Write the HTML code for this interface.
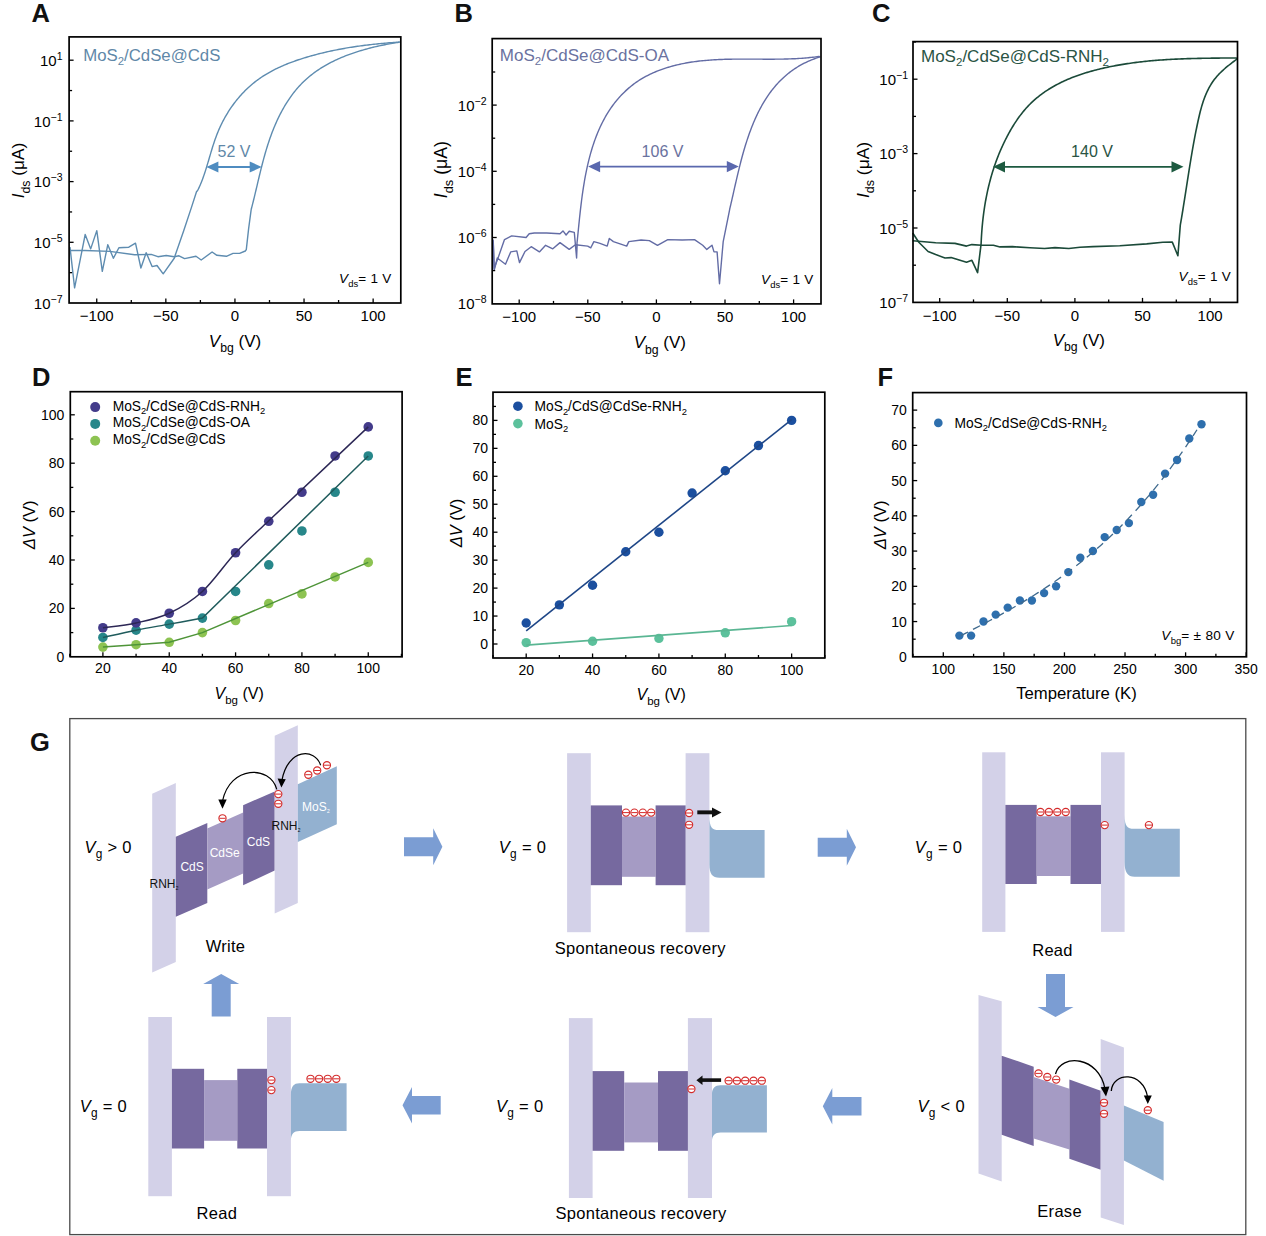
<!DOCTYPE html><html><head><meta charset="utf-8"><style>html,body{margin:0;padding:0;background:#fff;}svg{display:block;}</style></head><body>
<svg width="1266" height="1236" viewBox="0 0 1266 1236" font-family='"Liberation Sans", sans-serif'>
<rect width="1266" height="1236" fill="#fff"/>
<text x="31.5" y="22" font-size="25.5" text-anchor="start" fill="#111" font-weight="bold" >A</text>
<text x="454.5" y="22" font-size="25.5" text-anchor="start" fill="#111" font-weight="bold" >B</text>
<text x="872" y="22" font-size="25.5" text-anchor="start" fill="#111" font-weight="bold" >C</text>
<text x="32" y="386" font-size="25.5" text-anchor="start" fill="#111" font-weight="bold" >D</text>
<text x="455.5" y="386" font-size="25.5" text-anchor="start" fill="#111" font-weight="bold" >E</text>
<text x="877.5" y="386" font-size="25.5" text-anchor="start" fill="#111" font-weight="bold" >F</text>
<text x="30" y="750.5" font-size="25.5" text-anchor="start" fill="#111" font-weight="bold" >G</text>
<path d="M399.7,42 L398.19,42.14 L396.66,42.24 L395.14,42.35 L393.62,42.47 L392.1,42.58 L390.58,42.7 L389.06,42.82 L387.55,42.95 L386.03,43.08 L384.52,43.21 L383.01,43.35 L381.5,43.49 L379.99,43.63 L378.48,43.78 L376.98,43.93 L375.48,44.09 L373.97,44.25 L372.47,44.41 L370.97,44.58 L369.47,44.75 L367.97,44.93 L366.48,45.11 L364.98,45.3 L363.49,45.49 L361.99,45.69 L360.5,45.89 L359.01,46.09 L357.52,46.3 L356.03,46.52 L354.54,46.74 L353.06,46.97 L351.57,47.2 L350.08,47.43 L348.6,47.68 L347.12,47.92 L345.63,48.18 L344.15,48.44 L342.67,48.7 L341.19,48.97 L339.71,49.25 L338.23,49.53 L336.75,49.82 L335.27,50.12 L333.79,50.42 L332.31,50.73 L330.84,51.04 L329.36,51.36 L327.89,51.69 L326.41,52.03 L324.94,52.37 L323.46,52.72 L321.99,53.07 L320.51,53.43 L319.04,53.8 L317.57,54.18 L316.09,54.56 L314.62,54.95 L313.15,55.35 L311.67,55.76 L310.2,56.17 L308.73,56.59 L307.26,57.02 L305.79,57.46 L304.32,57.9 L302.85,58.36 L301.39,58.82 L299.93,59.3 L298.47,59.78 L297.02,60.27 L295.57,60.77 L294.12,61.29 L292.67,61.81 L291.24,62.34 L289.8,62.89 L288.37,63.44 L286.95,64.01 L285.53,64.59 L284.12,65.18 L282.72,65.79 L281.32,66.4 L279.93,67.03 L278.55,67.67 L277.17,68.33 L275.81,68.99 L274.45,69.67 L273.1,70.37 L271.76,71.08 L270.43,71.8 L269.11,72.54 L267.8,73.29 L266.5,74.06 L265.21,74.84 L263.93,75.64 L262.66,76.45 L261.41,77.28 L260.17,78.13 L258.94,78.99 L257.72,79.87 L256.52,80.77 L255.33,81.68 L254.15,82.61 L252.99,83.55 L251.84,84.51 L250.7,85.49 L249.57,86.48 L248.46,87.49 L247.37,88.51 L246.28,89.54 L245.21,90.6 L244.16,91.66 L243.12,92.74 L242.09,93.83 L241.07,94.94 L240.07,96.06 L239.09,97.19 L238.11,98.34 L237.16,99.5 L236.21,100.67 L235.28,101.86 L234.37,103.05 L233.47,104.26 L232.58,105.48 L231.71,106.71 L230.85,107.95 L230,109.2 L229.17,110.47 L228.36,111.74 L227.56,113.03 L226.78,114.32 L226.01,115.63 L225.25,116.94 L224.51,118.26 L223.78,119.59 L223.07,120.93 L222.38,122.28 L221.7,123.64 L221.03,125.01 L220.38,126.38 L219.75,127.77 L219.13,129.16 L218.53,130.55 L217.94,131.96 L217.37,133.37 L216.81,134.79 L216.27,136.21 L215.74,137.64 L215.22,139.07 L214.72,140.51 L214.23,141.96 L213.75,143.41 L213.27,144.86 L212.81,146.31 L212.35,147.77 L211.91,149.23 L211.46,150.69 L211.02,152.16 L210.59,153.62 L210.15,155.09 L209.72,156.55 L209.29,158.02 L208.87,159.48 L208.44,160.94 L208,162.4 L207.57,163.86 L207.13,165.32 L206.69,166.77 L206.24,168.22 L205.79,169.66 L205.33,171.1 L204.86,172.54 L204.38,173.97 L203.9,175.4 L203.4,176.81 L202.89,178.23 L202.36,179.63 L201.83,181.03 L201.28,182.42 L200.71,183.8 L200.13,185.17 L199.53,186.53 L198.91,187.89 L198.27,189.23 L197.61,190.56 L196.5,191.8 L191.3,207.9 L183.7,230.7 L175.2,255.3 L174.4,258 L163.2,273.8 L157,265.5 L152.1,266.6 L146.2,252.7 L140.9,268 L135.5,243.1 L128.8,247.2 L118.9,247.7 L113.4,258.3 L107.8,244.7 L102.3,271.3 L96.8,230.6 L90.7,248.9 L85.2,234.5 L74.6,287.9 L70,247.2" fill="none" stroke="#5e8cb0" stroke-width="1.4" stroke-linejoin="round"/>
<path d="M70,250.5 L84.9,250.5 L109.8,251.4 L134.6,254.7 L151.2,254.4 L157.9,256.7 L166.2,255.5 L174.2,256.7 L179,255.8 L184.6,258.6 L196,256.3 L201.2,260 L212.1,252 L216.9,255.3 L226.4,256.3 L233,253.4 L239.6,253.4 L245.3,251 L246.3,249.6 L248.6,228.8 L251,210.8 L251.25,209.25 L251.63,207.8 L252.01,206.34 L252.38,204.88 L252.75,203.42 L253.12,201.96 L253.48,200.5 L253.84,199.04 L254.2,197.57 L254.55,196.11 L254.9,194.64 L255.26,193.17 L255.61,191.71 L255.95,190.24 L256.3,188.77 L256.65,187.3 L257,185.83 L257.34,184.36 L257.69,182.89 L258.04,181.41 L258.39,179.94 L258.74,178.47 L259.09,177 L259.44,175.53 L259.8,174.06 L260.15,172.59 L260.51,171.11 L260.88,169.64 L261.24,168.17 L261.61,166.71 L261.99,165.24 L262.36,163.77 L262.75,162.3 L263.13,160.84 L263.53,159.37 L263.92,157.91 L264.33,156.45 L264.74,154.98 L265.15,153.53 L265.58,152.07 L266,150.61 L266.44,149.15 L266.88,147.7 L267.34,146.25 L267.79,144.8 L268.26,143.35 L268.74,141.91 L269.22,140.46 L269.72,139.02 L270.22,137.58 L270.73,136.15 L271.26,134.71 L271.79,133.28 L272.34,131.85 L272.89,130.43 L273.46,129 L274.04,127.58 L274.63,126.17 L275.23,124.76 L275.84,123.36 L276.46,121.96 L277.09,120.56 L277.74,119.17 L278.4,117.79 L279.07,116.41 L279.75,115.05 L280.45,113.68 L281.15,112.33 L281.87,110.99 L282.61,109.65 L283.35,108.32 L284.11,107 L284.88,105.69 L285.66,104.39 L286.46,103.1 L287.27,101.82 L288.1,100.55 L288.94,99.29 L289.79,98.05 L290.66,96.81 L291.54,95.59 L292.43,94.38 L293.34,93.18 L294.27,92 L295.2,90.83 L296.16,89.67 L297.13,88.53 L298.11,87.4 L299.11,86.29 L300.12,85.2 L301.15,84.11 L302.19,83.05 L303.25,82 L304.33,80.97 L305.42,79.96 L306.53,78.96 L307.65,77.97 L308.79,77.01 L309.94,76.06 L311.1,75.12 L312.28,74.21 L313.47,73.3 L314.67,72.42 L315.89,71.55 L317.12,70.69 L318.36,69.85 L319.62,69.02 L320.88,68.21 L322.16,67.41 L323.45,66.63 L324.75,65.86 L326.06,65.11 L327.38,64.37 L328.71,63.64 L330.04,62.93 L331.39,62.23 L332.75,61.55 L334.11,60.88 L335.49,60.22 L336.87,59.58 L338.26,58.94 L339.66,58.32 L341.06,57.72 L342.47,57.12 L343.89,56.54 L345.31,55.97 L346.74,55.42 L348.18,54.87 L349.62,54.34 L351.06,53.82 L352.51,53.31 L353.97,52.81 L355.42,52.32 L356.89,51.84 L358.35,51.38 L359.82,50.92 L361.29,50.48 L362.77,50.05 L364.24,49.62 L365.72,49.21 L367.2,48.81 L368.69,48.42 L370.17,48.03 L371.65,47.66 L373.14,47.3 L374.62,46.94 L376.11,46.6 L377.59,46.26 L379.08,45.94 L380.56,45.62 L382.04,45.31 L383.52,45.01 L385,44.72 L386.47,44.43 L387.95,44.16 L389.42,43.89 L390.88,43.63 L392.35,43.38 L393.81,43.13 L395.27,42.9 L396.72,42.67 L398.17,42.44 L399.7,42" fill="none" stroke="#5e8cb0" stroke-width="1.4" stroke-linejoin="round"/>
<line x1="217.4" y1="167" x2="250.7" y2="167" stroke="#4f8cc0" stroke-width="1.8"/>
<polygon points="206.4,167 218.4,161.4 218.4,172.6" fill="#4f8cc0"/>
<polygon points="261.7,167 249.7,161.4 249.7,172.6" fill="#4f8cc0"/>
<text x="234" y="156.9" font-size="16" text-anchor="middle" fill="#5f88a8" font-weight="normal" >52 V</text>
<text x="83.2" y="60.7" font-size="16.8" fill="#5f88a8">MoS<tspan font-size="11.42" dy="4.2">2</tspan><tspan dy="-4.2">/CdSe@CdS</tspan></text>
<text x="339" y="283.3" font-size="13.5" letter-spacing="0.3"><tspan font-style="italic">V</tspan><tspan font-size="9.45" dy="3.91" letter-spacing="0">ds</tspan><tspan dy="-3.91">= 1 V</tspan></text>
<rect x="69.1" y="36.9" width="331.7" height="266.1" fill="none" stroke="#000" stroke-width="1.7"/>
<line x1="96.74" y1="303" x2="96.74" y2="298.5" stroke="#000" stroke-width="1.3"/>
<line x1="131.29" y1="303" x2="131.29" y2="300" stroke="#000" stroke-width="1.3"/>
<line x1="165.84" y1="303" x2="165.84" y2="298.5" stroke="#000" stroke-width="1.3"/>
<line x1="200.39" y1="303" x2="200.39" y2="300" stroke="#000" stroke-width="1.3"/>
<line x1="234.94" y1="303" x2="234.94" y2="298.5" stroke="#000" stroke-width="1.3"/>
<line x1="269.49" y1="303" x2="269.49" y2="300" stroke="#000" stroke-width="1.3"/>
<line x1="304.04" y1="303" x2="304.04" y2="298.5" stroke="#000" stroke-width="1.3"/>
<line x1="338.59" y1="303" x2="338.59" y2="300" stroke="#000" stroke-width="1.3"/>
<line x1="373.14" y1="303" x2="373.14" y2="298.5" stroke="#000" stroke-width="1.3"/>
<line x1="69.1" y1="272.65" x2="72.1" y2="272.65" stroke="#000" stroke-width="1.3"/>
<line x1="69.1" y1="242.3" x2="73.6" y2="242.3" stroke="#000" stroke-width="1.3"/>
<line x1="69.1" y1="211.95" x2="72.1" y2="211.95" stroke="#000" stroke-width="1.3"/>
<line x1="69.1" y1="181.6" x2="73.6" y2="181.6" stroke="#000" stroke-width="1.3"/>
<line x1="69.1" y1="151.25" x2="72.1" y2="151.25" stroke="#000" stroke-width="1.3"/>
<line x1="69.1" y1="120.9" x2="73.6" y2="120.9" stroke="#000" stroke-width="1.3"/>
<line x1="69.1" y1="90.55" x2="72.1" y2="90.55" stroke="#000" stroke-width="1.3"/>
<line x1="69.1" y1="60.2" x2="73.6" y2="60.2" stroke="#000" stroke-width="1.3"/>
<text x="96.74" y="320.7" font-size="15" text-anchor="middle" fill="#000" font-weight="normal" >−100</text>
<text x="165.84" y="320.7" font-size="15" text-anchor="middle" fill="#000" font-weight="normal" >−50</text>
<text x="234.94" y="320.7" font-size="15" text-anchor="middle" fill="#000" font-weight="normal" >0</text>
<text x="304.04" y="320.7" font-size="15" text-anchor="middle" fill="#000" font-weight="normal" >50</text>
<text x="373.14" y="320.7" font-size="15" text-anchor="middle" fill="#000" font-weight="normal" >100</text>
<text x="62.5" y="65.9" font-size="15" text-anchor="end">10<tspan font-size="10.5" dy="-6">1</tspan></text>
<text x="62.5" y="126.6" font-size="15" text-anchor="end">10<tspan font-size="10.5" dy="-6">−1</tspan></text>
<text x="62.5" y="187.3" font-size="15" text-anchor="end">10<tspan font-size="10.5" dy="-6">−3</tspan></text>
<text x="62.5" y="248" font-size="15" text-anchor="end">10<tspan font-size="10.5" dy="-6">−5</tspan></text>
<text x="62.5" y="308.7" font-size="15" text-anchor="end">10<tspan font-size="10.5" dy="-6">−7</tspan></text>
<text x="208.8" y="347" font-size="17"><tspan font-style="italic">V</tspan><tspan font-size="12.24" dy="5.1">bg</tspan><tspan dy="-5.1"> (V)</tspan></text>
<text transform="translate(24.4,170.6) rotate(-90)" font-size="17.2" text-anchor="middle"><tspan font-style="italic">I</tspan><tspan font-size="12.38" dy="5.16">ds</tspan><tspan dy="-5.16"> (μA)</tspan></text>
<path d="M820.2,56.6 L818.57,56.49 L817.13,56.69 L815.69,56.89 L814.24,57.07 L812.79,57.25 L811.33,57.41 L809.87,57.57 L808.41,57.72 L806.95,57.86 L805.48,57.99 L804.01,58.11 L802.53,58.22 L801.05,58.33 L799.57,58.42 L798.09,58.51 L796.6,58.6 L795.11,58.68 L793.62,58.75 L792.13,58.81 L790.63,58.87 L789.13,58.92 L787.63,58.97 L786.13,59.01 L784.62,59.04 L783.11,59.08 L781.6,59.1 L780.09,59.13 L778.57,59.15 L777.06,59.16 L775.54,59.17 L774.02,59.18 L772.5,59.19 L770.98,59.19 L769.45,59.19 L767.93,59.19 L766.4,59.19 L764.88,59.18 L763.35,59.18 L761.82,59.17 L760.29,59.16 L758.76,59.15 L757.23,59.14 L755.69,59.13 L754.16,59.12 L752.63,59.12 L751.09,59.11 L749.56,59.1 L748.02,59.09 L746.49,59.09 L744.95,59.09 L743.42,59.09 L741.88,59.09 L740.35,59.09 L738.82,59.1 L737.28,59.11 L735.75,59.12 L734.21,59.14 L732.68,59.16 L731.15,59.18 L729.62,59.21 L728.09,59.24 L726.56,59.28 L725.03,59.32 L723.5,59.37 L721.97,59.43 L720.45,59.49 L718.92,59.55 L717.4,59.62 L715.88,59.7 L714.35,59.79 L712.84,59.88 L711.32,59.98 L709.8,60.09 L708.29,60.2 L706.78,60.33 L705.27,60.46 L703.76,60.6 L702.25,60.75 L700.75,60.91 L699.25,61.07 L697.75,61.25 L696.25,61.44 L694.76,61.64 L693.27,61.85 L691.78,62.06 L690.29,62.29 L688.81,62.54 L687.33,62.79 L685.85,63.05 L684.38,63.33 L682.91,63.62 L681.44,63.92 L679.97,64.23 L678.51,64.56 L677.05,64.9 L675.6,65.25 L674.15,65.62 L672.7,66 L671.26,66.4 L669.82,66.81 L668.38,67.24 L666.95,67.68 L665.52,68.13 L664.1,68.6 L662.68,69.09 L661.27,69.6 L659.86,70.11 L658.46,70.65 L657.07,71.2 L655.68,71.77 L654.3,72.36 L652.93,72.96 L651.57,73.58 L650.22,74.22 L648.87,74.87 L647.54,75.55 L646.21,76.24 L644.9,76.95 L643.59,77.67 L642.3,78.42 L641.02,79.19 L639.76,79.97 L638.5,80.77 L637.26,81.6 L636.03,82.44 L634.82,83.3 L633.62,84.18 L632.44,85.08 L631.27,86 L630.11,86.94 L628.98,87.9 L627.85,88.87 L626.74,89.86 L625.65,90.87 L624.57,91.89 L623.51,92.93 L622.46,93.98 L621.43,95.05 L620.41,96.14 L619.41,97.24 L618.43,98.35 L617.46,99.47 L616.51,100.61 L615.57,101.76 L614.65,102.93 L613.75,104.1 L612.87,105.29 L612,106.49 L611.15,107.7 L610.31,108.92 L609.49,110.15 L608.68,111.4 L607.89,112.65 L607.11,113.91 L606.35,115.19 L605.61,116.47 L604.88,117.76 L604.16,119.07 L603.46,120.38 L602.77,121.7 L602.09,123.03 L601.43,124.37 L600.78,125.72 L600.15,127.07 L599.53,128.44 L598.92,129.81 L598.32,131.19 L597.74,132.58 L597.17,133.97 L596.61,135.37 L596.07,136.78 L595.53,138.2 L595.01,139.62 L594.5,141.05 L594,142.48 L593.51,143.92 L593.03,145.37 L592.57,146.82 L592.11,148.27 L591.67,149.74 L591.23,151.2 L590.81,152.67 L590.39,154.15 L589.99,155.63 L589.59,157.11 L589.21,158.6 L588.83,160.09 L588.46,161.59 L588.1,163.09 L587.75,164.59 L587.41,166.09 L587.08,167.6 L586.75,169.11 L586.44,170.62 L586.13,172.13 L585.82,173.65 L585.53,175.17 L585.24,176.69 L584.96,178.21 L584.69,179.73 L584.42,181.25 L584.16,182.77 L583.91,184.3 L583.66,185.82 L583.42,187.34 L583.19,188.87 L582.96,190.39 L582.74,191.91 L582.52,193.44 L582.3,194.96 L582.09,196.48 L581.89,197.99 L581.69,199.51 L581.5,201.03 L581.31,202.54 L581.12,204.05 L580.94,205.56 L580.76,207.07 L580.58,208.57 L580.41,210.07 L580.24,211.57 L580.08,213.06 L579.92,214.56 L579.76,216.04 L579.6,217.53 L579.44,219 L579.29,220.48 L579.14,221.95 L578.99,223.41 L578.84,224.88 L578.69,226.33 L578.55,227.78 L578.4,229.22 L578.26,230.66 L578.12,232.1 L577.98,233.52 L577.83,234.94 L577.69,236.36 L577.55,237.76 L577.41,239.16 L577.27,240.56 L577.12,241.94 L576.98,243.32 L577.1,245.3 L576.6,258 L574.3,232.4 L569.2,231.3 L566.1,235 L563,230.9 L560,233.8 L546.6,233 L534.3,233 L529.2,233.8 L526.1,237.5 L511.7,235.9 L504.5,239.6 L498.4,257 L494.2,268.3 L493.2,239.6" fill="none" stroke="#636ca5" stroke-width="1.4" stroke-linejoin="round"/>
<path d="M493.2,241.6 L494.2,270.4 L497.3,258 L505.5,264.2 L510.7,251.9 L516.8,250.9 L519.5,262.6 L525,251.5 L531.2,246.7 L539.4,251.9 L545.6,245.3 L552.8,248.8 L560,242.6 L569.2,249.4 L575.4,244.7 L587.7,246.1 L590.8,247.8 L593.9,241.6 L600,243.3 L607.2,246.1 L609.3,238.5 L613.4,241.6 L626.7,246.1 L628.8,241.6 L641.1,240 L649.3,240.6 L657.5,245.3 L667.8,239.6 L682.2,240 L694.5,239.6 L702.7,245.3 L706.8,249.4 L712,245.3 L714,251.9 L717.1,251.9 L719.5,283.7 L723.2,241.6 L729.4,210.8 L729.72,209.03 L730.05,207.64 L730.38,206.24 L730.71,204.83 L731.04,203.41 L731.37,201.99 L731.7,200.56 L732.02,199.13 L732.35,197.69 L732.68,196.24 L733.01,194.79 L733.33,193.34 L733.66,191.88 L733.99,190.41 L734.33,188.94 L734.66,187.47 L734.99,185.99 L735.33,184.51 L735.67,183.03 L736.01,181.54 L736.35,180.05 L736.7,178.56 L737.05,177.07 L737.4,175.57 L737.76,174.07 L738.11,172.57 L738.48,171.07 L738.84,169.57 L739.21,168.06 L739.58,166.56 L739.96,165.06 L740.34,163.55 L740.73,162.05 L741.12,160.54 L741.52,159.04 L741.92,157.53 L742.33,156.03 L742.74,154.53 L743.16,153.03 L743.59,151.54 L744.02,150.04 L744.46,148.55 L744.91,147.06 L745.36,145.57 L745.82,144.08 L746.28,142.6 L746.76,141.12 L747.24,139.65 L747.73,138.18 L748.22,136.71 L748.73,135.25 L749.24,133.79 L749.77,132.34 L750.3,130.89 L750.84,129.45 L751.39,128.01 L751.95,126.58 L752.51,125.16 L753.09,123.74 L753.68,122.33 L754.28,120.92 L754.89,119.52 L755.51,118.13 L756.14,116.75 L756.78,115.38 L757.43,114.01 L758.09,112.65 L758.77,111.3 L759.45,109.96 L760.15,108.62 L760.86,107.3 L761.59,105.99 L762.32,104.68 L763.07,103.39 L763.83,102.1 L764.6,100.83 L765.39,99.57 L766.19,98.31 L767.01,97.07 L767.84,95.84 L768.68,94.62 L769.53,93.42 L770.41,92.22 L771.29,91.04 L772.19,89.87 L773.11,88.72 L774.04,87.57 L774.98,86.44 L775.95,85.33 L776.92,84.22 L777.92,83.14 L778.93,82.06 L779.95,81 L781,79.96 L782.06,78.93 L783.13,77.91 L784.22,76.91 L785.34,75.93 L786.46,74.96 L787.61,74.01 L788.77,73.07 L789.96,72.16 L791.16,71.25 L792.38,70.37 L793.61,69.5 L794.87,68.65 L796.15,67.82 L797.44,67.01 L798.76,66.21 L800.09,65.44 L801.44,64.68 L802.82,63.94 L804.21,63.22 L805.63,62.52 L807.06,61.84 L808.52,61.18 L810,60.55 L811.5,59.93 L813.02,59.33 L814.56,58.75 L816.12,58.2 L817.71,57.66 L819.31,57.15 L820.2,56.6" fill="none" stroke="#636ca5" stroke-width="1.4" stroke-linejoin="round"/>
<line x1="599.1" y1="166.6" x2="727.8" y2="166.6" stroke="#5a68ae" stroke-width="1.8"/>
<polygon points="588.1,166.6 600.1,161 600.1,172.2" fill="#5a68ae"/>
<polygon points="738.8,166.6 726.8,161 726.8,172.2" fill="#5a68ae"/>
<text x="662.5" y="156.5" font-size="16" text-anchor="middle" fill="#6a72a0" font-weight="normal" >106 V</text>
<text x="499.8" y="61" font-size="17" fill="#6a72a0">MoS<tspan font-size="11.56" dy="4.25">2</tspan><tspan dy="-4.25">/CdSe@CdS-OA</tspan></text>
<text x="761" y="284" font-size="13.5" letter-spacing="0.3"><tspan font-style="italic">V</tspan><tspan font-size="9.45" dy="3.91" letter-spacing="0">ds</tspan><tspan dy="-3.91">= 1 V</tspan></text>
<rect x="492.2" y="38.6" width="328.8" height="265.3" fill="none" stroke="#000" stroke-width="1.7"/>
<line x1="519.2" y1="303.9" x2="519.2" y2="299.4" stroke="#000" stroke-width="1.3"/>
<line x1="553.5" y1="303.9" x2="553.5" y2="300.9" stroke="#000" stroke-width="1.3"/>
<line x1="587.8" y1="303.9" x2="587.8" y2="299.4" stroke="#000" stroke-width="1.3"/>
<line x1="622.1" y1="303.9" x2="622.1" y2="300.9" stroke="#000" stroke-width="1.3"/>
<line x1="656.4" y1="303.9" x2="656.4" y2="299.4" stroke="#000" stroke-width="1.3"/>
<line x1="690.7" y1="303.9" x2="690.7" y2="300.9" stroke="#000" stroke-width="1.3"/>
<line x1="725" y1="303.9" x2="725" y2="299.4" stroke="#000" stroke-width="1.3"/>
<line x1="759.3" y1="303.9" x2="759.3" y2="300.9" stroke="#000" stroke-width="1.3"/>
<line x1="793.6" y1="303.9" x2="793.6" y2="299.4" stroke="#000" stroke-width="1.3"/>
<line x1="492.2" y1="270.6" x2="495.2" y2="270.6" stroke="#000" stroke-width="1.3"/>
<line x1="492.2" y1="237.5" x2="496.7" y2="237.5" stroke="#000" stroke-width="1.3"/>
<line x1="492.2" y1="204.4" x2="495.2" y2="204.4" stroke="#000" stroke-width="1.3"/>
<line x1="492.2" y1="171.3" x2="496.7" y2="171.3" stroke="#000" stroke-width="1.3"/>
<line x1="492.2" y1="138.2" x2="495.2" y2="138.2" stroke="#000" stroke-width="1.3"/>
<line x1="492.2" y1="105.1" x2="496.7" y2="105.1" stroke="#000" stroke-width="1.3"/>
<line x1="492.2" y1="72" x2="495.2" y2="72" stroke="#000" stroke-width="1.3"/>
<text x="519.2" y="322" font-size="15" text-anchor="middle" fill="#000" font-weight="normal" >−100</text>
<text x="587.8" y="322" font-size="15" text-anchor="middle" fill="#000" font-weight="normal" >−50</text>
<text x="656.4" y="322" font-size="15" text-anchor="middle" fill="#000" font-weight="normal" >0</text>
<text x="725" y="322" font-size="15" text-anchor="middle" fill="#000" font-weight="normal" >50</text>
<text x="793.6" y="322" font-size="15" text-anchor="middle" fill="#000" font-weight="normal" >100</text>
<text x="486.5" y="110.6" font-size="15" text-anchor="end">10<tspan font-size="10.5" dy="-6">−2</tspan></text>
<text x="486.5" y="176.8" font-size="15" text-anchor="end">10<tspan font-size="10.5" dy="-6">−4</tspan></text>
<text x="486.5" y="243" font-size="15" text-anchor="end">10<tspan font-size="10.5" dy="-6">−6</tspan></text>
<text x="486.5" y="309.2" font-size="15" text-anchor="end">10<tspan font-size="10.5" dy="-6">−8</tspan></text>
<text x="633.7" y="348.4" font-size="17"><tspan font-style="italic">V</tspan><tspan font-size="12.24" dy="5.1">bg</tspan><tspan dy="-5.1"> (V)</tspan></text>
<text transform="translate(447.3,169.6) rotate(-90)" font-size="17.7" text-anchor="middle"><tspan font-style="italic">I</tspan><tspan font-size="12.74" dy="5.31">ds</tspan><tspan dy="-5.31"> (μA)</tspan></text>
<path d="M1237.2,58.3 L1235.72,57.94 L1234.2,57.96 L1232.69,57.97 L1231.17,57.98 L1229.66,57.99 L1228.15,58.01 L1226.63,58.02 L1225.12,58.03 L1223.61,58.04 L1222.09,58.06 L1220.58,58.07 L1219.07,58.09 L1217.56,58.1 L1216.05,58.12 L1214.54,58.13 L1213.03,58.15 L1211.52,58.17 L1210.01,58.19 L1208.5,58.21 L1206.99,58.23 L1205.48,58.25 L1203.97,58.28 L1202.46,58.31 L1200.95,58.33 L1199.44,58.36 L1197.93,58.39 L1196.43,58.43 L1194.92,58.46 L1193.41,58.5 L1191.91,58.54 L1190.4,58.58 L1188.89,58.63 L1187.39,58.67 L1185.88,58.72 L1184.38,58.78 L1182.87,58.83 L1181.37,58.89 L1179.86,58.95 L1178.36,59.01 L1176.85,59.08 L1175.35,59.15 L1173.85,59.22 L1172.34,59.3 L1170.84,59.38 L1169.34,59.46 L1167.83,59.55 L1166.33,59.64 L1164.83,59.74 L1163.33,59.84 L1161.83,59.94 L1160.33,60.05 L1158.83,60.16 L1157.33,60.28 L1155.83,60.4 L1154.33,60.52 L1152.83,60.65 L1151.33,60.79 L1149.83,60.92 L1148.33,61.07 L1146.83,61.22 L1145.33,61.37 L1143.83,61.53 L1142.34,61.7 L1140.84,61.87 L1139.34,62.04 L1137.84,62.22 L1136.35,62.41 L1134.85,62.6 L1133.35,62.8 L1131.86,63 L1130.36,63.21 L1128.87,63.43 L1127.37,63.65 L1125.88,63.88 L1124.38,64.11 L1122.89,64.35 L1121.39,64.6 L1119.9,64.86 L1118.41,65.12 L1116.91,65.39 L1115.42,65.66 L1113.93,65.94 L1112.43,66.23 L1110.94,66.53 L1109.45,66.83 L1107.96,67.14 L1106.47,67.46 L1104.98,67.79 L1103.49,68.12 L1102,68.47 L1100.51,68.82 L1099.03,69.18 L1097.54,69.55 L1096.06,69.92 L1094.59,70.31 L1093.11,70.7 L1091.64,71.11 L1090.17,71.52 L1088.7,71.95 L1087.24,72.38 L1085.78,72.82 L1084.33,73.28 L1082.88,73.74 L1081.43,74.22 L1079.99,74.7 L1078.56,75.2 L1077.13,75.71 L1075.7,76.23 L1074.29,76.76 L1072.87,77.3 L1071.47,77.86 L1070.07,78.42 L1068.67,79 L1067.29,79.59 L1065.91,80.2 L1064.54,80.81 L1063.18,81.44 L1061.82,82.09 L1060.47,82.74 L1059.13,83.41 L1057.8,84.09 L1056.48,84.79 L1055.17,85.5 L1053.87,86.23 L1052.57,86.97 L1051.29,87.72 L1050.02,88.49 L1048.75,89.27 L1047.5,90.07 L1046.26,90.88 L1045.03,91.71 L1043.81,92.56 L1042.6,93.42 L1041.41,94.3 L1040.22,95.19 L1039.05,96.1 L1037.89,97.02 L1036.74,97.96 L1035.61,98.92 L1034.49,99.9 L1033.38,100.89 L1032.29,101.9 L1031.21,102.93 L1030.14,103.98 L1029.09,105.04 L1028.06,106.12 L1027.03,107.22 L1026.03,108.34 L1025.03,109.47 L1024.06,110.62 L1023.09,111.79 L1022.14,112.97 L1021.2,114.16 L1020.28,115.37 L1019.37,116.59 L1018.48,117.83 L1017.59,119.07 L1016.72,120.33 L1015.87,121.6 L1015.02,122.88 L1014.19,124.17 L1013.38,125.47 L1012.57,126.78 L1011.78,128.1 L1011,129.42 L1010.23,130.76 L1009.48,132.1 L1008.73,133.44 L1008,134.79 L1007.28,136.15 L1006.57,137.51 L1005.87,138.87 L1005.19,140.24 L1004.51,141.61 L1003.85,142.98 L1003.2,144.36 L1002.56,145.73 L1001.93,147.12 L1001.31,148.5 L1000.7,149.89 L1000.1,151.28 L999.51,152.67 L998.94,154.07 L998.37,155.47 L997.82,156.87 L997.27,158.28 L996.74,159.68 L996.21,161.1 L995.7,162.51 L995.2,163.93 L994.7,165.35 L994.22,166.77 L993.75,168.2 L993.28,169.63 L992.83,171.06 L992.38,172.5 L991.95,173.93 L991.53,175.37 L991.11,176.82 L990.71,178.26 L990.31,179.71 L989.92,181.17 L989.55,182.62 L989.18,184.08 L988.82,185.54 L988.47,187 L988.13,188.46 L987.79,189.93 L987.47,191.4 L987.16,192.87 L986.85,194.34 L986.55,195.81 L986.26,197.29 L985.98,198.77 L985.71,200.25 L985.44,201.73 L985.19,203.22 L984.94,204.7 L984.7,206.19 L984.47,207.68 L984.25,209.17 L984.03,210.67 L983.82,212.16 L983.62,213.66 L983.43,215.15 L983.24,216.65 L983.06,218.15 L982.89,219.66 L982.73,221.16 L982.57,222.66 L982.43,224.17 L982.28,225.67 L982.15,227.18 L982.02,228.69 L981.9,230.2 L981.78,231.71 L981.68,233.22 L981.58,234.73 L981.48,236.25 L981.39,237.76 L981.31,239.27 L981.24,240.79 L981.17,242.3 L981.1,243.8 L977.6,272.6 L971.9,260.3 L966.5,262.3 L951.1,257.6 L945,258 L935.7,254.6 L928.1,251.5 L918.8,242.3 L912.7,233" fill="none" stroke="#1b4a39" stroke-width="1.6" stroke-linejoin="round"/>
<path d="M912.7,240.7 L935.7,242.7 L955,243.4 L966.5,246.1 L971.9,244.6 L981.9,245.3 L993.4,245.2 L1000,246.9 L1012.4,246.6 L1030,247.8 L1044.6,248.5 L1055,247.6 L1068.8,248.5 L1080,247.2 L1093,246.6 L1119.8,245.8 L1146.7,243.9 L1162.8,242.3 L1172.3,242.1 L1177.9,255.7 L1180.2,226.3 L1180.33,224.79 L1180.59,223.28 L1180.86,221.78 L1181.12,220.27 L1181.38,218.77 L1181.63,217.27 L1181.89,215.76 L1182.14,214.26 L1182.39,212.75 L1182.64,211.25 L1182.89,209.75 L1183.13,208.24 L1183.38,206.74 L1183.62,205.24 L1183.86,203.73 L1184.1,202.23 L1184.34,200.73 L1184.58,199.22 L1184.81,197.72 L1185.05,196.22 L1185.28,194.72 L1185.52,193.21 L1185.75,191.71 L1185.98,190.21 L1186.22,188.71 L1186.45,187.2 L1186.68,185.7 L1186.92,184.2 L1187.15,182.7 L1187.38,181.2 L1187.61,179.7 L1187.85,178.19 L1188.08,176.69 L1188.32,175.19 L1188.55,173.69 L1188.79,172.19 L1189.02,170.69 L1189.26,169.19 L1189.5,167.69 L1189.74,166.19 L1189.98,164.69 L1190.23,163.18 L1190.47,161.68 L1190.72,160.18 L1190.96,158.68 L1191.21,157.19 L1191.47,155.69 L1191.72,154.19 L1191.97,152.69 L1192.23,151.19 L1192.49,149.69 L1192.75,148.19 L1193.02,146.69 L1193.29,145.19 L1193.56,143.69 L1193.83,142.2 L1194.11,140.7 L1194.39,139.2 L1194.67,137.7 L1194.96,136.2 L1195.24,134.71 L1195.54,133.21 L1195.83,131.71 L1196.13,130.21 L1196.44,128.72 L1196.74,127.22 L1197.05,125.72 L1197.37,124.23 L1197.69,122.73 L1198.01,121.24 L1198.34,119.74 L1198.68,118.25 L1199.02,116.75 L1199.37,115.26 L1199.72,113.78 L1200.09,112.29 L1200.47,110.81 L1200.86,109.34 L1201.27,107.87 L1201.68,106.4 L1202.11,104.95 L1202.56,103.5 L1203.03,102.05 L1203.51,100.62 L1204.01,99.2 L1204.53,97.78 L1205.07,96.38 L1205.64,94.98 L1206.23,93.6 L1206.84,92.23 L1207.47,90.88 L1208.13,89.53 L1208.82,88.2 L1209.54,86.89 L1210.28,85.59 L1211.06,84.3 L1211.87,83.04 L1212.7,81.78 L1213.58,80.55 L1214.48,79.34 L1215.42,78.14 L1216.4,76.96 L1217.41,75.81 L1218.45,74.67 L1219.52,73.55 L1220.62,72.45 L1221.74,71.37 L1222.89,70.31 L1224.05,69.26 L1225.22,68.23 L1226.42,67.22 L1227.62,66.22 L1228.83,65.25 L1230.04,64.28 L1231.26,63.34 L1232.47,62.4 L1233.68,61.49 L1234.89,60.59 L1236.09,59.7 L1237.2,58.8" fill="none" stroke="#1b4a39" stroke-width="1.6" stroke-linejoin="round"/>
<line x1="1004" y1="166.8" x2="1172.5" y2="166.8" stroke="#1d5a40" stroke-width="1.8"/>
<polygon points="993,166.8 1005,161.2 1005,172.4" fill="#1d5a40"/>
<polygon points="1183.5,166.8 1171.5,161.2 1171.5,172.4" fill="#1d5a40"/>
<text x="1092" y="156.5" font-size="16" text-anchor="middle" fill="#2a5444" font-weight="normal" >140 V</text>
<text x="921" y="62" font-size="17" fill="#2a5444">MoS<tspan font-size="11.56" dy="4.25">2</tspan><tspan dy="-4.25">/CdSe@CdS-RNH</tspan><tspan font-size="11.56" dy="4.25">2</tspan></text>
<text x="1178.4" y="281.4" font-size="13.5" letter-spacing="0.3"><tspan font-style="italic">V</tspan><tspan font-size="9.45" dy="3.91" letter-spacing="0">ds</tspan><tspan dy="-3.91">= 1 V</tspan></text>
<rect x="913" y="41.6" width="324.5" height="260.8" fill="none" stroke="#000" stroke-width="1.7"/>
<line x1="939.7" y1="302.4" x2="939.7" y2="297.9" stroke="#000" stroke-width="1.3"/>
<line x1="973.5" y1="302.4" x2="973.5" y2="299.4" stroke="#000" stroke-width="1.3"/>
<line x1="1007.3" y1="302.4" x2="1007.3" y2="297.9" stroke="#000" stroke-width="1.3"/>
<line x1="1041.1" y1="302.4" x2="1041.1" y2="299.4" stroke="#000" stroke-width="1.3"/>
<line x1="1074.9" y1="302.4" x2="1074.9" y2="297.9" stroke="#000" stroke-width="1.3"/>
<line x1="1108.7" y1="302.4" x2="1108.7" y2="299.4" stroke="#000" stroke-width="1.3"/>
<line x1="1142.5" y1="302.4" x2="1142.5" y2="297.9" stroke="#000" stroke-width="1.3"/>
<line x1="1176.3" y1="302.4" x2="1176.3" y2="299.4" stroke="#000" stroke-width="1.3"/>
<line x1="1210.1" y1="302.4" x2="1210.1" y2="297.9" stroke="#000" stroke-width="1.3"/>
<line x1="913" y1="265.2" x2="916" y2="265.2" stroke="#000" stroke-width="1.3"/>
<line x1="913" y1="228" x2="917.5" y2="228" stroke="#000" stroke-width="1.3"/>
<line x1="913" y1="190.8" x2="916" y2="190.8" stroke="#000" stroke-width="1.3"/>
<line x1="913" y1="153.6" x2="917.5" y2="153.6" stroke="#000" stroke-width="1.3"/>
<line x1="913" y1="116.4" x2="916" y2="116.4" stroke="#000" stroke-width="1.3"/>
<line x1="913" y1="79.2" x2="917.5" y2="79.2" stroke="#000" stroke-width="1.3"/>
<line x1="913" y1="42" x2="916" y2="42" stroke="#000" stroke-width="1.3"/>
<text x="939.7" y="321" font-size="15" text-anchor="middle" fill="#000" font-weight="normal" >−100</text>
<text x="1007.3" y="321" font-size="15" text-anchor="middle" fill="#000" font-weight="normal" >−50</text>
<text x="1074.9" y="321" font-size="15" text-anchor="middle" fill="#000" font-weight="normal" >0</text>
<text x="1142.5" y="321" font-size="15" text-anchor="middle" fill="#000" font-weight="normal" >50</text>
<text x="1210.1" y="321" font-size="15" text-anchor="middle" fill="#000" font-weight="normal" >100</text>
<text x="908" y="84.7" font-size="15" text-anchor="end">10<tspan font-size="10.5" dy="-6">−1</tspan></text>
<text x="908" y="159.1" font-size="15" text-anchor="end">10<tspan font-size="10.5" dy="-6">−3</tspan></text>
<text x="908" y="233.5" font-size="15" text-anchor="end">10<tspan font-size="10.5" dy="-6">−5</tspan></text>
<text x="908" y="307.9" font-size="15" text-anchor="end">10<tspan font-size="10.5" dy="-6">−7</tspan></text>
<text x="1052.7" y="345.8" font-size="17"><tspan font-style="italic">V</tspan><tspan font-size="12.24" dy="5.1">bg</tspan><tspan dy="-5.1"> (V)</tspan></text>
<text transform="translate(868.8,170) rotate(-90)" font-size="17.4" text-anchor="middle"><tspan font-style="italic">I</tspan><tspan font-size="12.53" dy="5.22">ds</tspan><tspan dy="-5.22"> (μA)</tspan></text>
<circle cx="102.9" cy="647.12" r="4.8" fill="#8dc352"/>
<circle cx="136.07" cy="644.7" r="4.8" fill="#8dc352"/>
<circle cx="169.24" cy="642.28" r="4.8" fill="#8dc352"/>
<circle cx="202.41" cy="632.6" r="4.8" fill="#8dc352"/>
<circle cx="235.58" cy="620.5" r="4.8" fill="#8dc352"/>
<circle cx="268.75" cy="603.56" r="4.8" fill="#8dc352"/>
<circle cx="301.92" cy="593.88" r="4.8" fill="#8dc352"/>
<circle cx="335.09" cy="576.94" r="4.8" fill="#8dc352"/>
<circle cx="368.26" cy="562.42" r="4.8" fill="#8dc352"/>
<circle cx="102.9" cy="637.44" r="4.8" fill="#27878a"/>
<circle cx="136.07" cy="630.18" r="4.8" fill="#27878a"/>
<circle cx="169.24" cy="624.13" r="4.8" fill="#27878a"/>
<circle cx="202.41" cy="618.08" r="4.8" fill="#27878a"/>
<circle cx="235.58" cy="591.46" r="4.8" fill="#27878a"/>
<circle cx="268.75" cy="564.84" r="4.8" fill="#27878a"/>
<circle cx="301.92" cy="530.96" r="4.8" fill="#27878a"/>
<circle cx="335.09" cy="492.24" r="4.8" fill="#27878a"/>
<circle cx="368.26" cy="455.94" r="4.8" fill="#27878a"/>
<circle cx="102.9" cy="627.76" r="4.8" fill="#433b8a"/>
<circle cx="136.07" cy="622.92" r="4.8" fill="#433b8a"/>
<circle cx="169.24" cy="613.24" r="4.8" fill="#433b8a"/>
<circle cx="202.41" cy="591.46" r="4.8" fill="#433b8a"/>
<circle cx="235.58" cy="552.74" r="4.8" fill="#433b8a"/>
<circle cx="268.75" cy="521.28" r="4.8" fill="#433b8a"/>
<circle cx="301.92" cy="492.24" r="4.8" fill="#433b8a"/>
<circle cx="335.09" cy="455.94" r="4.8" fill="#433b8a"/>
<circle cx="368.26" cy="426.9" r="4.8" fill="#433b8a"/>
<path d="M102.9,627.76 C108.43,626.95 125.01,625.34 136.07,622.92 C147.13,620.5 158.18,618.48 169.24,613.24 C180.3,608 191.35,601.54 202.41,591.46 C213.47,581.38 224.52,564.52 235.58,552.74 C246.64,540.96 263.22,526.12 268.75,520.8 L368.26,426.9" fill="none" stroke="#2c2755" stroke-width="1.5"/>
<path d="M102.9,637.44 C108.43,636.23 125.01,632.4 136.07,630.18 C147.13,627.96 158.18,626.15 169.24,624.13 C180.3,622.11 196.88,619.09 202.41,618.08 L368.26,455.94" fill="none" stroke="#1f5b5c" stroke-width="1.5"/>
<path d="M102.9,647.12 L136.07,644.7 L169.24,642.28 L202.41,632.6 L368.26,562.42" fill="none" stroke="#4e9438" stroke-width="1.5"/>
<rect x="70.3" y="391.7" width="331.8" height="265.1" fill="none" stroke="#000" stroke-width="1.7"/>
<line x1="69.73" y1="656.8" x2="69.73" y2="653.8" stroke="#000" stroke-width="1.3"/>
<line x1="102.9" y1="656.8" x2="102.9" y2="652.3" stroke="#000" stroke-width="1.3"/>
<line x1="136.07" y1="656.8" x2="136.07" y2="653.8" stroke="#000" stroke-width="1.3"/>
<line x1="169.24" y1="656.8" x2="169.24" y2="652.3" stroke="#000" stroke-width="1.3"/>
<line x1="202.41" y1="656.8" x2="202.41" y2="653.8" stroke="#000" stroke-width="1.3"/>
<line x1="235.58" y1="656.8" x2="235.58" y2="652.3" stroke="#000" stroke-width="1.3"/>
<line x1="268.75" y1="656.8" x2="268.75" y2="653.8" stroke="#000" stroke-width="1.3"/>
<line x1="301.92" y1="656.8" x2="301.92" y2="652.3" stroke="#000" stroke-width="1.3"/>
<line x1="335.09" y1="656.8" x2="335.09" y2="653.8" stroke="#000" stroke-width="1.3"/>
<line x1="368.26" y1="656.8" x2="368.26" y2="652.3" stroke="#000" stroke-width="1.3"/>
<line x1="401.43" y1="656.8" x2="401.43" y2="653.8" stroke="#000" stroke-width="1.3"/>
<line x1="70.3" y1="632.6" x2="73.3" y2="632.6" stroke="#000" stroke-width="1.3"/>
<line x1="70.3" y1="608.4" x2="74.8" y2="608.4" stroke="#000" stroke-width="1.3"/>
<line x1="70.3" y1="584.2" x2="73.3" y2="584.2" stroke="#000" stroke-width="1.3"/>
<line x1="70.3" y1="560" x2="74.8" y2="560" stroke="#000" stroke-width="1.3"/>
<line x1="70.3" y1="535.8" x2="73.3" y2="535.8" stroke="#000" stroke-width="1.3"/>
<line x1="70.3" y1="511.6" x2="74.8" y2="511.6" stroke="#000" stroke-width="1.3"/>
<line x1="70.3" y1="487.4" x2="73.3" y2="487.4" stroke="#000" stroke-width="1.3"/>
<line x1="70.3" y1="463.2" x2="74.8" y2="463.2" stroke="#000" stroke-width="1.3"/>
<line x1="70.3" y1="439" x2="73.3" y2="439" stroke="#000" stroke-width="1.3"/>
<line x1="70.3" y1="414.8" x2="74.8" y2="414.8" stroke="#000" stroke-width="1.3"/>
<text x="102.9" y="673" font-size="14" text-anchor="middle" fill="#000" font-weight="normal" >20</text>
<text x="169.24" y="673" font-size="14" text-anchor="middle" fill="#000" font-weight="normal" >40</text>
<text x="235.58" y="673" font-size="14" text-anchor="middle" fill="#000" font-weight="normal" >60</text>
<text x="301.92" y="673" font-size="14" text-anchor="middle" fill="#000" font-weight="normal" >80</text>
<text x="368.26" y="673" font-size="14" text-anchor="middle" fill="#000" font-weight="normal" >100</text>
<text x="64.3" y="661.8" font-size="14" text-anchor="end" fill="#000" font-weight="normal" >0</text>
<text x="64.3" y="613.4" font-size="14" text-anchor="end" fill="#000" font-weight="normal" >20</text>
<text x="64.3" y="565" font-size="14" text-anchor="end" fill="#000" font-weight="normal" >40</text>
<text x="64.3" y="516.6" font-size="14" text-anchor="end" fill="#000" font-weight="normal" >60</text>
<text x="64.3" y="468.2" font-size="14" text-anchor="end" fill="#000" font-weight="normal" >80</text>
<text x="64.3" y="419.8" font-size="14" text-anchor="end" fill="#000" font-weight="normal" >100</text>
<circle cx="95.2" cy="407.1" r="5" fill="#433b8a"/>
<text x="112.7" y="410.6" font-size="13.8" fill="#000">MoS<tspan font-size="9.38" dy="3.45">2</tspan><tspan dy="-3.45">/CdSe@CdS-RNH</tspan><tspan font-size="9.38" dy="3.45">2</tspan></text>
<circle cx="95.2" cy="423.9" r="5" fill="#27878a"/>
<text x="112.7" y="427.4" font-size="13.8" fill="#000">MoS<tspan font-size="9.38" dy="3.45">2</tspan><tspan dy="-3.45">/CdSe@CdS-OA</tspan></text>
<circle cx="95.2" cy="440.7" r="5" fill="#8dc352"/>
<text x="112.7" y="444.2" font-size="13.8" fill="#000">MoS<tspan font-size="9.38" dy="3.45">2</tspan><tspan dy="-3.45">/CdSe@CdS</tspan></text>
<text x="214.5" y="699.3" font-size="16"><tspan font-style="italic">V</tspan><tspan font-size="11.52" dy="4.8">bg</tspan><tspan dy="-4.8"> (V)</tspan></text>
<text transform="translate(34.5,524.8) rotate(-90)" font-size="16.5" text-anchor="middle"><tspan font-style="italic">ΔV</tspan> (V)</text>
<circle cx="526.2" cy="642.6" r="4.7" fill="#5cc19c"/>
<circle cx="592.56" cy="641.21" r="4.7" fill="#5cc19c"/>
<circle cx="658.92" cy="638.41" r="4.7" fill="#5cc19c"/>
<circle cx="725.28" cy="632.82" r="4.7" fill="#5cc19c"/>
<circle cx="791.64" cy="621.64" r="4.7" fill="#5cc19c"/>
<circle cx="526.2" cy="623.04" r="4.7" fill="#1b4f9f"/>
<circle cx="559.38" cy="604.87" r="4.7" fill="#1b4f9f"/>
<circle cx="592.56" cy="585.3" r="4.7" fill="#1b4f9f"/>
<circle cx="625.74" cy="551.76" r="4.7" fill="#1b4f9f"/>
<circle cx="658.92" cy="532.2" r="4.7" fill="#1b4f9f"/>
<circle cx="692.1" cy="493.07" r="4.7" fill="#1b4f9f"/>
<circle cx="725.28" cy="470.71" r="4.7" fill="#1b4f9f"/>
<circle cx="758.46" cy="445.56" r="4.7" fill="#1b4f9f"/>
<circle cx="791.64" cy="420.4" r="4.7" fill="#1b4f9f"/>
<line x1="526.2" y1="630.86" x2="791.64" y2="419.56" stroke="#1e4687" stroke-width="1.6"/>
<line x1="526.2" y1="645.12" x2="791.64" y2="625.55" stroke="#5ab693" stroke-width="1.6"/>
<rect x="493" y="392.2" width="331.8" height="265.8" fill="none" stroke="#000" stroke-width="1.7"/>
<line x1="493.02" y1="658" x2="493.02" y2="655" stroke="#000" stroke-width="1.3"/>
<line x1="526.2" y1="658" x2="526.2" y2="653.5" stroke="#000" stroke-width="1.3"/>
<line x1="559.38" y1="658" x2="559.38" y2="655" stroke="#000" stroke-width="1.3"/>
<line x1="592.56" y1="658" x2="592.56" y2="653.5" stroke="#000" stroke-width="1.3"/>
<line x1="625.74" y1="658" x2="625.74" y2="655" stroke="#000" stroke-width="1.3"/>
<line x1="658.92" y1="658" x2="658.92" y2="653.5" stroke="#000" stroke-width="1.3"/>
<line x1="692.1" y1="658" x2="692.1" y2="655" stroke="#000" stroke-width="1.3"/>
<line x1="725.28" y1="658" x2="725.28" y2="653.5" stroke="#000" stroke-width="1.3"/>
<line x1="758.46" y1="658" x2="758.46" y2="655" stroke="#000" stroke-width="1.3"/>
<line x1="791.64" y1="658" x2="791.64" y2="653.5" stroke="#000" stroke-width="1.3"/>
<line x1="824.82" y1="658" x2="824.82" y2="655" stroke="#000" stroke-width="1.3"/>
<line x1="493" y1="644" x2="497.5" y2="644" stroke="#000" stroke-width="1.3"/>
<line x1="493" y1="630.02" x2="496" y2="630.02" stroke="#000" stroke-width="1.3"/>
<line x1="493" y1="616.05" x2="497.5" y2="616.05" stroke="#000" stroke-width="1.3"/>
<line x1="493" y1="602.08" x2="496" y2="602.08" stroke="#000" stroke-width="1.3"/>
<line x1="493" y1="588.1" x2="497.5" y2="588.1" stroke="#000" stroke-width="1.3"/>
<line x1="493" y1="574.12" x2="496" y2="574.12" stroke="#000" stroke-width="1.3"/>
<line x1="493" y1="560.15" x2="497.5" y2="560.15" stroke="#000" stroke-width="1.3"/>
<line x1="493" y1="546.17" x2="496" y2="546.17" stroke="#000" stroke-width="1.3"/>
<line x1="493" y1="532.2" x2="497.5" y2="532.2" stroke="#000" stroke-width="1.3"/>
<line x1="493" y1="518.23" x2="496" y2="518.23" stroke="#000" stroke-width="1.3"/>
<line x1="493" y1="504.25" x2="497.5" y2="504.25" stroke="#000" stroke-width="1.3"/>
<line x1="493" y1="490.27" x2="496" y2="490.27" stroke="#000" stroke-width="1.3"/>
<line x1="493" y1="476.3" x2="497.5" y2="476.3" stroke="#000" stroke-width="1.3"/>
<line x1="493" y1="462.33" x2="496" y2="462.33" stroke="#000" stroke-width="1.3"/>
<line x1="493" y1="448.35" x2="497.5" y2="448.35" stroke="#000" stroke-width="1.3"/>
<line x1="493" y1="434.38" x2="496" y2="434.38" stroke="#000" stroke-width="1.3"/>
<line x1="493" y1="420.4" x2="497.5" y2="420.4" stroke="#000" stroke-width="1.3"/>
<line x1="493" y1="406.43" x2="496" y2="406.43" stroke="#000" stroke-width="1.3"/>
<text x="526.2" y="674.5" font-size="14" text-anchor="middle" fill="#000" font-weight="normal" >20</text>
<text x="592.56" y="674.5" font-size="14" text-anchor="middle" fill="#000" font-weight="normal" >40</text>
<text x="658.92" y="674.5" font-size="14" text-anchor="middle" fill="#000" font-weight="normal" >60</text>
<text x="725.28" y="674.5" font-size="14" text-anchor="middle" fill="#000" font-weight="normal" >80</text>
<text x="791.64" y="674.5" font-size="14" text-anchor="middle" fill="#000" font-weight="normal" >100</text>
<text x="488" y="649" font-size="14" text-anchor="end" fill="#000" font-weight="normal" >0</text>
<text x="488" y="621.05" font-size="14" text-anchor="end" fill="#000" font-weight="normal" >10</text>
<text x="488" y="593.1" font-size="14" text-anchor="end" fill="#000" font-weight="normal" >20</text>
<text x="488" y="565.15" font-size="14" text-anchor="end" fill="#000" font-weight="normal" >30</text>
<text x="488" y="537.2" font-size="14" text-anchor="end" fill="#000" font-weight="normal" >40</text>
<text x="488" y="509.25" font-size="14" text-anchor="end" fill="#000" font-weight="normal" >50</text>
<text x="488" y="481.3" font-size="14" text-anchor="end" fill="#000" font-weight="normal" >60</text>
<text x="488" y="453.35" font-size="14" text-anchor="end" fill="#000" font-weight="normal" >70</text>
<text x="488" y="425.4" font-size="14" text-anchor="end" fill="#000" font-weight="normal" >80</text>
<circle cx="517.9" cy="406.2" r="4.8" fill="#1b4f9f"/>
<circle cx="517.9" cy="423.6" r="4.8" fill="#5cc19c"/>
<text x="534.5" y="411.3" font-size="13.8" fill="#000">MoS<tspan font-size="9.38" dy="3.45">2</tspan><tspan dy="-3.45">/CdS@CdSe-RNH</tspan><tspan font-size="9.38" dy="3.45">2</tspan></text>
<text x="534.5" y="428.7" font-size="13.8" fill="#000">MoS<tspan font-size="9.38" dy="3.45">2</tspan><tspan dy="-3.45"></tspan></text>
<text x="636.5" y="699.8" font-size="16"><tspan font-style="italic">V</tspan><tspan font-size="11.52" dy="4.8">bg</tspan><tspan dy="-4.8"> (V)</tspan></text>
<text transform="translate(461.5,523) rotate(-90)" font-size="16.5" text-anchor="middle"><tspan font-style="italic">ΔV</tspan> (V)</text>
<circle cx="959.4" cy="635.6" r="4.2" fill="#2e6fad"/>
<circle cx="971.1" cy="635.6" r="4.2" fill="#2e6fad"/>
<circle cx="983.5" cy="621.5" r="4.2" fill="#2e6fad"/>
<circle cx="995.7" cy="614.6" r="4.2" fill="#2e6fad"/>
<circle cx="1007.7" cy="607.6" r="4.2" fill="#2e6fad"/>
<circle cx="1019.9" cy="600.5" r="4.2" fill="#2e6fad"/>
<circle cx="1031.9" cy="600.5" r="4.2" fill="#2e6fad"/>
<circle cx="1044.1" cy="593.1" r="4.2" fill="#2e6fad"/>
<circle cx="1056.1" cy="586.2" r="4.2" fill="#2e6fad"/>
<circle cx="1068.3" cy="572.1" r="4.2" fill="#2e6fad"/>
<circle cx="1080.3" cy="557.8" r="4.2" fill="#2e6fad"/>
<circle cx="1092.9" cy="551" r="4.2" fill="#2e6fad"/>
<circle cx="1104.7" cy="537.1" r="4.2" fill="#2e6fad"/>
<circle cx="1116.7" cy="530" r="4.2" fill="#2e6fad"/>
<circle cx="1128.9" cy="523.1" r="4.2" fill="#2e6fad"/>
<circle cx="1141.3" cy="502" r="4.2" fill="#2e6fad"/>
<circle cx="1153.1" cy="494.7" r="4.2" fill="#2e6fad"/>
<circle cx="1165.1" cy="473.6" r="4.2" fill="#2e6fad"/>
<circle cx="1177.1" cy="460" r="4.2" fill="#2e6fad"/>
<circle cx="1189.3" cy="438.5" r="4.2" fill="#2e6fad"/>
<circle cx="1201.5" cy="424.3" r="4.2" fill="#2e6fad"/>
<path d="M961,635.62 L965.82,633.14 L970.63,630.66 L975.45,628.16 L980.27,625.64 L985.08,623.11 L989.9,620.55 L994.71,617.95 L999.53,615.33 L1004.35,612.67 L1009.16,609.96 L1013.98,607.22 L1018.8,604.42 L1023.61,601.57 L1028.43,598.66 L1033.24,595.69 L1038.06,592.65 L1042.88,589.55 L1047.69,586.37 L1052.51,583.12 L1057.33,579.78 L1062.14,576.36 L1066.96,572.85 L1071.78,569.25 L1076.59,565.55 L1081.41,561.74 L1086.22,557.84 L1091.04,553.82 L1095.86,549.69 L1100.67,545.44 L1105.49,541.08 L1110.31,536.58 L1115.12,531.96 L1119.94,527.21 L1124.76,522.32 L1129.57,517.28 L1134.39,512.1 L1139.2,506.78 L1144.02,501.3 L1148.84,495.66 L1153.65,489.86 L1158.47,483.9 L1163.29,477.77 L1168.1,471.46 L1172.92,464.98 L1177.73,458.32 L1182.55,451.47 L1187.37,444.43 L1192.18,437.2 L1197,429.77" fill="none" stroke="#3f6a8e" stroke-width="1.3" stroke-dasharray="8,5.5"/>
<rect x="912.7" y="392.6" width="333.8" height="264.2" fill="none" stroke="#000" stroke-width="1.7"/>
<line x1="913.01" y1="656.8" x2="913.01" y2="653.8" stroke="#000" stroke-width="1.3"/>
<line x1="943.3" y1="656.8" x2="943.3" y2="652.3" stroke="#000" stroke-width="1.3"/>
<line x1="973.59" y1="656.8" x2="973.59" y2="653.8" stroke="#000" stroke-width="1.3"/>
<line x1="1003.88" y1="656.8" x2="1003.88" y2="652.3" stroke="#000" stroke-width="1.3"/>
<line x1="1034.16" y1="656.8" x2="1034.16" y2="653.8" stroke="#000" stroke-width="1.3"/>
<line x1="1064.45" y1="656.8" x2="1064.45" y2="652.3" stroke="#000" stroke-width="1.3"/>
<line x1="1094.74" y1="656.8" x2="1094.74" y2="653.8" stroke="#000" stroke-width="1.3"/>
<line x1="1125.02" y1="656.8" x2="1125.02" y2="652.3" stroke="#000" stroke-width="1.3"/>
<line x1="1155.31" y1="656.8" x2="1155.31" y2="653.8" stroke="#000" stroke-width="1.3"/>
<line x1="1185.6" y1="656.8" x2="1185.6" y2="652.3" stroke="#000" stroke-width="1.3"/>
<line x1="1215.89" y1="656.8" x2="1215.89" y2="653.8" stroke="#000" stroke-width="1.3"/>
<line x1="1246.17" y1="656.8" x2="1246.17" y2="652.3" stroke="#000" stroke-width="1.3"/>
<line x1="912.7" y1="639.18" x2="915.7" y2="639.18" stroke="#000" stroke-width="1.3"/>
<line x1="912.7" y1="621.56" x2="917.2" y2="621.56" stroke="#000" stroke-width="1.3"/>
<line x1="912.7" y1="603.94" x2="915.7" y2="603.94" stroke="#000" stroke-width="1.3"/>
<line x1="912.7" y1="586.32" x2="917.2" y2="586.32" stroke="#000" stroke-width="1.3"/>
<line x1="912.7" y1="568.7" x2="915.7" y2="568.7" stroke="#000" stroke-width="1.3"/>
<line x1="912.7" y1="551.08" x2="917.2" y2="551.08" stroke="#000" stroke-width="1.3"/>
<line x1="912.7" y1="533.46" x2="915.7" y2="533.46" stroke="#000" stroke-width="1.3"/>
<line x1="912.7" y1="515.84" x2="917.2" y2="515.84" stroke="#000" stroke-width="1.3"/>
<line x1="912.7" y1="498.22" x2="915.7" y2="498.22" stroke="#000" stroke-width="1.3"/>
<line x1="912.7" y1="480.6" x2="917.2" y2="480.6" stroke="#000" stroke-width="1.3"/>
<line x1="912.7" y1="462.98" x2="915.7" y2="462.98" stroke="#000" stroke-width="1.3"/>
<line x1="912.7" y1="445.36" x2="917.2" y2="445.36" stroke="#000" stroke-width="1.3"/>
<line x1="912.7" y1="427.74" x2="915.7" y2="427.74" stroke="#000" stroke-width="1.3"/>
<line x1="912.7" y1="410.12" x2="917.2" y2="410.12" stroke="#000" stroke-width="1.3"/>
<text x="943.3" y="673.5" font-size="14" text-anchor="middle" fill="#000" font-weight="normal" >100</text>
<text x="1003.88" y="673.5" font-size="14" text-anchor="middle" fill="#000" font-weight="normal" >150</text>
<text x="1064.45" y="673.5" font-size="14" text-anchor="middle" fill="#000" font-weight="normal" >200</text>
<text x="1125.02" y="673.5" font-size="14" text-anchor="middle" fill="#000" font-weight="normal" >250</text>
<text x="1185.6" y="673.5" font-size="14" text-anchor="middle" fill="#000" font-weight="normal" >300</text>
<text x="1246.17" y="673.5" font-size="14" text-anchor="middle" fill="#000" font-weight="normal" >350</text>
<text x="906.8" y="661.8" font-size="14" text-anchor="end" fill="#000" font-weight="normal" >0</text>
<text x="906.8" y="626.56" font-size="14" text-anchor="end" fill="#000" font-weight="normal" >10</text>
<text x="906.8" y="591.32" font-size="14" text-anchor="end" fill="#000" font-weight="normal" >20</text>
<text x="906.8" y="556.08" font-size="14" text-anchor="end" fill="#000" font-weight="normal" >30</text>
<text x="906.8" y="520.84" font-size="14" text-anchor="end" fill="#000" font-weight="normal" >40</text>
<text x="906.8" y="485.6" font-size="14" text-anchor="end" fill="#000" font-weight="normal" >50</text>
<text x="906.8" y="450.36" font-size="14" text-anchor="end" fill="#000" font-weight="normal" >60</text>
<text x="906.8" y="415.12" font-size="14" text-anchor="end" fill="#000" font-weight="normal" >70</text>
<circle cx="938.3" cy="422.9" r="4.3" fill="#2e6fad"/>
<text x="954.4" y="427.6" font-size="13.8" fill="#000">MoS<tspan font-size="9.38" dy="3.45">2</tspan><tspan dy="-3.45">/CdSe@CdS-RNH</tspan><tspan font-size="9.38" dy="3.45">2</tspan></text>
<text x="1016.2" y="699.1" font-size="16.7">Temperature (K)</text>
<text transform="translate(885.8,524.9) rotate(-90)" font-size="16.5" text-anchor="middle"><tspan font-style="italic">ΔV</tspan> (V)</text>
<text x="1161.3" y="640.3" font-size="13.6" letter-spacing="0.3"><tspan font-style="italic">V</tspan><tspan font-size="9.5" dy="3.9" letter-spacing="0">bg</tspan><tspan dy="-3.9">= ± 80 V</tspan></text>
<rect x="69.8" y="718.6" width="1176" height="516" fill="none" stroke="#4a4a4a" stroke-width="1.3"/>
<polygon points="404,837.3 433.2,837.3 433.2,828.3 442.4,846.8 433.2,865.3 433.2,856.3 404,856.3" fill="#7b9dd3"/>
<polygon points="817.7,837.7 846.8,837.7 846.8,828.7 856,847.2 846.8,865.7 846.8,856.7 817.7,856.7" fill="#7b9dd3"/>
<polygon points="1046,974 1046,1007 1037.5,1007 1055.5,1017 1073.5,1007 1065,1007 1065,974" fill="#7b9dd3"/>
<polygon points="861.5,1097.05 832.3,1097.05 832.3,1088.05 822.8,1106.3 832.3,1124.55 832.3,1115.55 861.5,1115.55" fill="#7b9dd3"/>
<polygon points="440.7,1096.05 412,1096.05 412,1087.05 402.5,1105.3 412,1123.55 412,1114.55 440.7,1114.55" fill="#7b9dd3"/>
<polygon points="211.7,1016.4 211.7,984 203.2,984 221.2,974 239.2,984 230.7,984 230.7,1016.4" fill="#7b9dd3"/>
<polygon points="152.2,793.7 175.8,783.1 175.8,962 152.2,972.5" fill="#d3d1e8"/>
<polygon points="175.8,836.8 207.3,823.1 207.3,903.1 175.8,916.8" fill="#76699f"/>
<polygon points="207.3,828.4 243.1,812.6 243.1,873.6 207.3,889.4" fill="#a59bc4"/>
<polygon points="243.1,805.2 274.7,791.5 274.7,870.5 243.1,885.2" fill="#76699f"/>
<polygon points="274.7,735.8 297.8,725.3 297.8,903.1 274.7,913.6" fill="#d3d1e8"/>
<polygon points="297.8,784.2 336.8,766.3 336.8,824.2 297.8,842.1" fill="#93b1d0"/>
<text x="192.1" y="870.5" font-size="12" text-anchor="middle" fill="#fff" font-weight="normal" >CdS</text>
<text x="224.7" y="857.2" font-size="12" text-anchor="middle" fill="#fff" font-weight="normal" >CdSe</text>
<text x="258.4" y="845.8" font-size="12" text-anchor="middle" fill="#fff" font-weight="normal" >CdS</text>
<text x="149.5" y="888.3" font-size="12" text-anchor="start" fill="#111" font-weight="normal" >RNH<tspan font-size="8" dy="1">₂</tspan></text>
<text x="271.5" y="830" font-size="12" text-anchor="start" fill="#111" font-weight="normal" >RNH<tspan font-size="8" dy="1">₂</tspan></text>
<text x="302" y="810.5" font-size="12" text-anchor="start" fill="#fff" font-weight="normal" >MoS<tspan font-size="8" dy="1">₂</tspan></text>
<text x="225.5" y="951.5" font-size="16.5" text-anchor="middle" fill="#000" font-weight="normal" letter-spacing="0.3">Write</text>
<circle cx="222.5" cy="818.3" r="3.6" fill="#fff" stroke="#d42b2b" stroke-width="1.15"/><line x1="219.5" y1="818.3" x2="225.5" y2="818.3" stroke="#d42b2b" stroke-width="1"/>
<circle cx="278.3" cy="794.1" r="3.6" fill="#fff" stroke="#d42b2b" stroke-width="1.15"/><line x1="275.3" y1="794.1" x2="281.3" y2="794.1" stroke="#d42b2b" stroke-width="1"/>
<circle cx="278.3" cy="803.8" r="3.6" fill="#fff" stroke="#d42b2b" stroke-width="1.15"/><line x1="275.3" y1="803.8" x2="281.3" y2="803.8" stroke="#d42b2b" stroke-width="1"/>
<circle cx="308.3" cy="774.7" r="3.6" fill="#fff" stroke="#d42b2b" stroke-width="1.15"/><line x1="305.3" y1="774.7" x2="311.3" y2="774.7" stroke="#d42b2b" stroke-width="1"/>
<circle cx="317.2" cy="770.5" r="3.6" fill="#fff" stroke="#d42b2b" stroke-width="1.15"/><line x1="314.2" y1="770.5" x2="320.2" y2="770.5" stroke="#d42b2b" stroke-width="1"/>
<circle cx="326.9" cy="765.2" r="3.6" fill="#fff" stroke="#d42b2b" stroke-width="1.15"/><line x1="323.9" y1="765.2" x2="329.9" y2="765.2" stroke="#d42b2b" stroke-width="1"/>
<path d="M276.8,789.4 C270,765 230,765 222.5,801" fill="none" stroke="#000" stroke-width="1.2"/>
<polygon points="222.5,808.8 218.3,799.5 226.7,799.5" fill="#000"/>
<path d="M320.6,765.2 C315,748 288,748 282,780" fill="none" stroke="#000" stroke-width="1.2"/>
<polygon points="281.4,787.5 277.6,778.5 285.8,779.2" fill="#000"/>
<text x="84.4" y="853.3" font-size="16.5" letter-spacing="0.3"><tspan font-style="italic">V</tspan><tspan font-size="11.88" dy="4.95">g</tspan><tspan dy="-4.95"> > 0</tspan></text>
<rect x="567.1" y="753.2" width="23.7" height="179" fill="#d3d1e8"/>
<rect x="685.6" y="753.2" width="23.8" height="179" fill="#d3d1e8"/>
<rect x="590.8" y="805.4" width="31.2" height="79.8" fill="#76699f"/>
<rect x="622" y="816.5" width="33.6" height="60.3" fill="#a59bc4"/>
<rect x="655.6" y="805.4" width="30" height="79.8" fill="#76699f"/>
<path d="M709.4,816 C709.4,828 712.4,830 718.4,830 L764.6,830 L764.6,877.8 L719.4,877.8 C712.4,877.8 709.4,873.8 709.4,864.5 Z" fill="#93b1d0"/>
<circle cx="626" cy="812.6" r="3.6" fill="#fff" stroke="#d42b2b" stroke-width="1.15"/><line x1="623" y1="812.6" x2="629" y2="812.6" stroke="#d42b2b" stroke-width="1"/>
<circle cx="634.4" cy="812.6" r="3.6" fill="#fff" stroke="#d42b2b" stroke-width="1.15"/><line x1="631.4" y1="812.6" x2="637.4" y2="812.6" stroke="#d42b2b" stroke-width="1"/>
<circle cx="642.8" cy="812.6" r="3.6" fill="#fff" stroke="#d42b2b" stroke-width="1.15"/><line x1="639.8" y1="812.6" x2="645.8" y2="812.6" stroke="#d42b2b" stroke-width="1"/>
<circle cx="651.2" cy="812.6" r="3.6" fill="#fff" stroke="#d42b2b" stroke-width="1.15"/><line x1="648.2" y1="812.6" x2="654.2" y2="812.6" stroke="#d42b2b" stroke-width="1"/>
<circle cx="689.1" cy="813" r="3.6" fill="#fff" stroke="#d42b2b" stroke-width="1.15"/><line x1="686.1" y1="813" x2="692.1" y2="813" stroke="#d42b2b" stroke-width="1"/>
<circle cx="689.1" cy="824.8" r="3.6" fill="#fff" stroke="#d42b2b" stroke-width="1.15"/><line x1="686.1" y1="824.8" x2="692.1" y2="824.8" stroke="#d42b2b" stroke-width="1"/>
<rect x="697.3" y="810.4" width="16" height="3.9" fill="#111"/>
<polygon points="721.5,812.4 712,807.4 712,817.4" fill="#111"/>
<text x="498.8" y="853.3" font-size="16.5" letter-spacing="0.3"><tspan font-style="italic">V</tspan><tspan font-size="11.88" dy="4.95">g</tspan><tspan dy="-4.95"> = 0</tspan></text>
<text x="640.2" y="953.5" font-size="16.5" text-anchor="middle" fill="#000" font-weight="normal" letter-spacing="0.3">Spontaneous recovery</text>
<rect x="982.2" y="752.3" width="23.2" height="179.6" fill="#d3d1e8"/>
<rect x="1101" y="752.3" width="23.6" height="179.6" fill="#d3d1e8"/>
<rect x="1005.4" y="804.9" width="31.3" height="79.1" fill="#76699f"/>
<rect x="1036.7" y="816.3" width="33.8" height="59.7" fill="#a59bc4"/>
<rect x="1070.5" y="804.9" width="30.5" height="79.1" fill="#76699f"/>
<path d="M1124.6,815 C1124.6,826.8 1127.6,828.8 1133.6,828.8 L1179.8,828.8 L1179.8,876.7 L1134.6,876.7 C1127.6,876.7 1124.6,872.7 1124.6,862 Z" fill="#93b1d0"/>
<circle cx="1040.5" cy="812" r="3.6" fill="#fff" stroke="#d42b2b" stroke-width="1.15"/><line x1="1037.5" y1="812" x2="1043.5" y2="812" stroke="#d42b2b" stroke-width="1"/>
<circle cx="1048.9" cy="812" r="3.6" fill="#fff" stroke="#d42b2b" stroke-width="1.15"/><line x1="1045.9" y1="812" x2="1051.9" y2="812" stroke="#d42b2b" stroke-width="1"/>
<circle cx="1057.3" cy="812" r="3.6" fill="#fff" stroke="#d42b2b" stroke-width="1.15"/><line x1="1054.3" y1="812" x2="1060.3" y2="812" stroke="#d42b2b" stroke-width="1"/>
<circle cx="1065.7" cy="812" r="3.6" fill="#fff" stroke="#d42b2b" stroke-width="1.15"/><line x1="1062.7" y1="812" x2="1068.7" y2="812" stroke="#d42b2b" stroke-width="1"/>
<circle cx="1104.7" cy="825.1" r="3.6" fill="#fff" stroke="#d42b2b" stroke-width="1.15"/><line x1="1101.7" y1="825.1" x2="1107.7" y2="825.1" stroke="#d42b2b" stroke-width="1"/>
<circle cx="1148.9" cy="825.1" r="3.6" fill="#fff" stroke="#d42b2b" stroke-width="1.15"/><line x1="1145.9" y1="825.1" x2="1151.9" y2="825.1" stroke="#d42b2b" stroke-width="1"/>
<text x="914.8" y="853.3" font-size="16.5" letter-spacing="0.3"><tspan font-style="italic">V</tspan><tspan font-size="11.88" dy="4.95">g</tspan><tspan dy="-4.95"> = 0</tspan></text>
<text x="1052.5" y="955.5" font-size="16.5" text-anchor="middle" fill="#000" font-weight="normal" letter-spacing="0.3">Read</text>
<rect x="148.3" y="1017" width="23.6" height="179.2" fill="#d3d1e8"/>
<rect x="267" y="1017" width="23.9" height="179.2" fill="#d3d1e8"/>
<rect x="171.9" y="1068.8" width="32.2" height="79.7" fill="#76699f"/>
<rect x="204.1" y="1080.1" width="33.2" height="60.7" fill="#a59bc4"/>
<rect x="237.3" y="1068.8" width="29.7" height="79.7" fill="#76699f"/>
<path d="M290.9,1094.9 C290.9,1086.3 293.9,1083.3 299.4,1083.3 L346.6,1083.3 L346.6,1131 L299.4,1131 C293.9,1131 290.9,1134 290.9,1140.8 Z" fill="#93b1d0"/>
<circle cx="271.4" cy="1080.1" r="3.6" fill="#fff" stroke="#d42b2b" stroke-width="1.15"/><line x1="268.4" y1="1080.1" x2="274.4" y2="1080.1" stroke="#d42b2b" stroke-width="1"/>
<circle cx="271.4" cy="1090.1" r="3.6" fill="#fff" stroke="#d42b2b" stroke-width="1.15"/><line x1="268.4" y1="1090.1" x2="274.4" y2="1090.1" stroke="#d42b2b" stroke-width="1"/>
<circle cx="310.5" cy="1078.8" r="3.6" fill="#fff" stroke="#d42b2b" stroke-width="1.15"/><line x1="307.5" y1="1078.8" x2="313.5" y2="1078.8" stroke="#d42b2b" stroke-width="1"/>
<circle cx="319.1" cy="1078.8" r="3.6" fill="#fff" stroke="#d42b2b" stroke-width="1.15"/><line x1="316.1" y1="1078.8" x2="322.1" y2="1078.8" stroke="#d42b2b" stroke-width="1"/>
<circle cx="327.7" cy="1078.8" r="3.6" fill="#fff" stroke="#d42b2b" stroke-width="1.15"/><line x1="324.7" y1="1078.8" x2="330.7" y2="1078.8" stroke="#d42b2b" stroke-width="1"/>
<circle cx="336.3" cy="1078.8" r="3.6" fill="#fff" stroke="#d42b2b" stroke-width="1.15"/><line x1="333.3" y1="1078.8" x2="339.3" y2="1078.8" stroke="#d42b2b" stroke-width="1"/>
<text x="79.7" y="1111.8" font-size="16.5" letter-spacing="0.3"><tspan font-style="italic">V</tspan><tspan font-size="11.88" dy="4.95">g</tspan><tspan dy="-4.95"> = 0</tspan></text>
<text x="216.8" y="1218.5" font-size="16.5" text-anchor="middle" fill="#000" font-weight="normal" letter-spacing="0.3">Read</text>
<rect x="568.9" y="1018.1" width="23.7" height="179.9" fill="#d3d1e8"/>
<rect x="687.9" y="1018.1" width="24.1" height="179.9" fill="#d3d1e8"/>
<rect x="592.6" y="1071.1" width="31.6" height="79.7" fill="#76699f"/>
<rect x="624.2" y="1082.5" width="33.8" height="59.9" fill="#a59bc4"/>
<rect x="658" y="1071.1" width="29.9" height="79.7" fill="#76699f"/>
<path d="M712,1094 C712,1088.3 715,1085.3 720.5,1085.3 L766.9,1085.3 L766.9,1132.5 L720.5,1132.5 C715,1132.5 712,1135.5 712,1141.4 Z" fill="#93b1d0"/>
<circle cx="691.4" cy="1089" r="3.6" fill="#fff" stroke="#d42b2b" stroke-width="1.15"/><line x1="688.4" y1="1089" x2="694.4" y2="1089" stroke="#d42b2b" stroke-width="1"/>
<circle cx="728.6" cy="1080.7" r="3.6" fill="#fff" stroke="#d42b2b" stroke-width="1.15"/><line x1="725.6" y1="1080.7" x2="731.6" y2="1080.7" stroke="#d42b2b" stroke-width="1"/>
<circle cx="736.9" cy="1080.7" r="3.6" fill="#fff" stroke="#d42b2b" stroke-width="1.15"/><line x1="733.9" y1="1080.7" x2="739.9" y2="1080.7" stroke="#d42b2b" stroke-width="1"/>
<circle cx="745.2" cy="1080.7" r="3.6" fill="#fff" stroke="#d42b2b" stroke-width="1.15"/><line x1="742.2" y1="1080.7" x2="748.2" y2="1080.7" stroke="#d42b2b" stroke-width="1"/>
<circle cx="753.5" cy="1080.7" r="3.6" fill="#fff" stroke="#d42b2b" stroke-width="1.15"/><line x1="750.5" y1="1080.7" x2="756.5" y2="1080.7" stroke="#d42b2b" stroke-width="1"/>
<circle cx="761.8" cy="1080.7" r="3.6" fill="#fff" stroke="#d42b2b" stroke-width="1.15"/><line x1="758.8" y1="1080.7" x2="764.8" y2="1080.7" stroke="#d42b2b" stroke-width="1"/>
<rect x="701" y="1078.3" width="20.1" height="3.6" fill="#111"/>
<polygon points="696.4,1080.2 702.5,1075.6 702.5,1084.9" fill="#111"/>
<text x="496" y="1111.8" font-size="16.5" letter-spacing="0.3"><tspan font-style="italic">V</tspan><tspan font-size="11.88" dy="4.95">g</tspan><tspan dy="-4.95"> = 0</tspan></text>
<text x="641" y="1218.5" font-size="16.5" text-anchor="middle" fill="#000" font-weight="normal" letter-spacing="0.3">Spontaneous recovery</text>
<polygon points="978.5,995 1001.7,1001.2 1001.7,1181.6 978.5,1173.5" fill="#d3d1e8"/>
<polygon points="1001.7,1055.7 1033.7,1066.7 1033.7,1145.9 1001.7,1134.8" fill="#76699f"/>
<polygon points="1033.7,1077 1069.4,1088.8 1069.4,1149.5 1033.7,1138.5" fill="#a59bc4"/>
<polygon points="1069.4,1079.6 1100.7,1090.7 1100.7,1169.8 1069.4,1158.8" fill="#76699f"/>
<polygon points="1100.7,1039.1 1123.9,1047.6 1123.9,1225 1100.7,1217.6" fill="#d3d1e8"/>
<polygon points="1123.9,1105.4 1163.6,1122 1163.6,1180.8 1123.9,1160.6" fill="#93b1d0"/>
<circle cx="1038.5" cy="1073.4" r="3.6" fill="#fff" stroke="#d42b2b" stroke-width="1.15"/><line x1="1035.5" y1="1073.4" x2="1041.5" y2="1073.4" stroke="#d42b2b" stroke-width="1"/>
<circle cx="1047.3" cy="1077" r="3.6" fill="#fff" stroke="#d42b2b" stroke-width="1.15"/><line x1="1044.3" y1="1077" x2="1050.3" y2="1077" stroke="#d42b2b" stroke-width="1"/>
<circle cx="1056.2" cy="1079.6" r="3.6" fill="#fff" stroke="#d42b2b" stroke-width="1.15"/><line x1="1053.2" y1="1079.6" x2="1059.2" y2="1079.6" stroke="#d42b2b" stroke-width="1"/>
<circle cx="1104" cy="1102.8" r="3.6" fill="#fff" stroke="#d42b2b" stroke-width="1.15"/><line x1="1101" y1="1102.8" x2="1107" y2="1102.8" stroke="#d42b2b" stroke-width="1"/>
<circle cx="1104" cy="1113.8" r="3.6" fill="#fff" stroke="#d42b2b" stroke-width="1.15"/><line x1="1101" y1="1113.8" x2="1107" y2="1113.8" stroke="#d42b2b" stroke-width="1"/>
<circle cx="1147.8" cy="1110.2" r="3.6" fill="#fff" stroke="#d42b2b" stroke-width="1.15"/><line x1="1144.8" y1="1110.2" x2="1150.8" y2="1110.2" stroke="#d42b2b" stroke-width="1"/>
<path d="M1055.5,1074 C1061,1053 1099,1056 1105,1089" fill="none" stroke="#000" stroke-width="1.3"/>
<polygon points="1106,1096.5 1100.6,1087.2 1109.4,1086.4" fill="#000"/>
<path d="M1111.3,1091 C1112.5,1072 1143,1070.5 1147.6,1097" fill="none" stroke="#000" stroke-width="1.3"/>
<polygon points="1147.8,1104 1143.8,1095.5 1151.8,1095.5" fill="#000"/>
<text x="917.5" y="1112" font-size="16.5" letter-spacing="0.3"><tspan font-style="italic">V</tspan><tspan font-size="11.88" dy="4.95">g</tspan><tspan dy="-4.95"> &lt; 0</tspan></text>
<text x="1059.6" y="1216.5" font-size="16.5" text-anchor="middle" fill="#000" font-weight="normal" letter-spacing="0.3">Erase</text>
</svg></body></html>
